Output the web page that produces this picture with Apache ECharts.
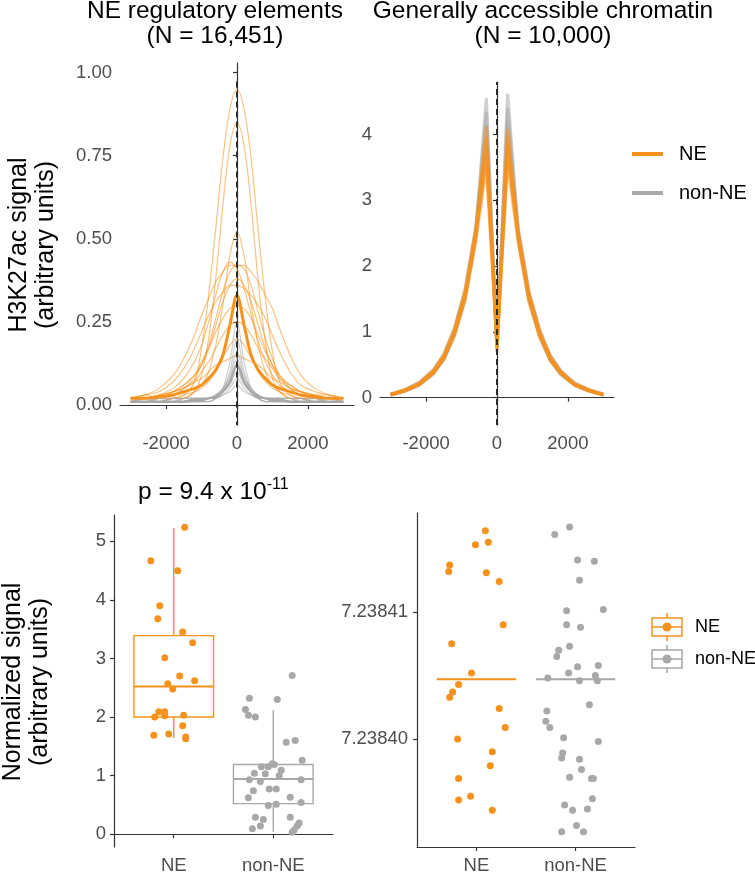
<!DOCTYPE html>
<html><head><meta charset="utf-8">
<script src="https://cdn.jsdelivr.net/npm/echarts@6/dist/echarts.min.js"></script>
<style>html,body{margin:0;padding:0;background:#fff}#c{width:755px;height:875px}</style>
</head><body><div id="c"></div>
<script>
const ORANGE = '#F5921E';
const GRAY = '#A8A8A8';
const FONT = '"Liberation Sans", Arial, Helvetica, sans-serif';

// ---------- Top-left: NE regulatory elements profiles ----------
const posLeft = [-3000,-2600,-2200,-1800,-1500,-1200,-1000,-800,-600,-400,-200,0,200,400,600,800,1000,1200,1500,1800,2200,2600,3000];
const leftNE = [
  [0.01,0.01,0.01,0.02,0.03,0.07,0.17,0.33,0.53,0.74,0.89,0.95,0.89,0.74,0.52,0.32,0.16,0.07,0.03,0.02,0.01,0.01,0.01],
  [0.01,0.01,0.01,0.01,0.02,0.04,0.09,0.20,0.38,0.60,0.78,0.85,0.78,0.60,0.37,0.19,0.08,0.04,0.02,0.01,0.01,0.01,0.01],
  [0.01,0.01,0.01,0.02,0.02,0.04,0.06,0.10,0.18,0.30,0.45,0.52,0.45,0.30,0.18,0.10,0.06,0.04,0.02,0.02,0.01,0.01,0.01],
  [0.01,0.02,0.03,0.05,0.08,0.13,0.18,0.25,0.33,0.40,0.43,0.41,0.35,0.27,0.19,0.13,0.09,0.06,0.04,0.03,0.02,0.01,0.01],
  [0.01,0.01,0.02,0.03,0.05,0.08,0.12,0.18,0.26,0.34,0.40,0.42,0.41,0.36,0.28,0.20,0.14,0.09,0.05,0.03,0.02,0.02,0.01],
  [0.02,0.03,0.05,0.09,0.14,0.21,0.27,0.32,0.37,0.40,0.42,0.42,0.42,0.40,0.37,0.33,0.29,0.23,0.15,0.09,0.05,0.03,0.02],
  [0.02,0.03,0.04,0.07,0.11,0.17,0.22,0.27,0.31,0.34,0.36,0.36,0.35,0.33,0.30,0.26,0.21,0.16,0.10,0.06,0.04,0.03,0.02],
  [0.01,0.02,0.03,0.04,0.06,0.09,0.13,0.17,0.22,0.26,0.29,0.30,0.29,0.26,0.21,0.16,0.12,0.08,0.05,0.04,0.03,0.02,0.01],
  [0.02,0.03,0.02,0.04,0.05,0.07,0.10,0.13,0.17,0.21,0.24,0.25,0.24,0.21,0.17,0.14,0.11,0.08,0.06,0.04,0.03,0.03,0.02],
  [0.01,0.01,0.02,0.02,0.03,0.04,0.05,0.07,0.10,0.14,0.18,0.20,0.18,0.14,0.10,0.07,0.05,0.04,0.03,0.02,0.02,0.01,0.01],
  [0.01,0.02,0.02,0.04,0.06,0.09,0.12,0.17,0.24,0.31,0.36,0.38,0.36,0.31,0.24,0.17,0.12,0.09,0.06,0.04,0.02,0.02,0.01],
  [0.02,0.02,0.03,0.04,0.05,0.07,0.08,0.10,0.12,0.13,0.14,0.15,0.14,0.13,0.12,0.10,0.08,0.07,0.05,0.04,0.03,0.02,0.02]
];
const leftNonNE = [
  [0.01,0.01,0.01,0.01,0.01,0.01,0.01,0.01,0.02,0.05,0.13,0.25,0.13,0.05,0.02,0.01,0.01,0.01,0.01,0.01,0.01,0.01,0.01],
  [0.01,0.01,0.01,0.01,0.01,0.01,0.01,0.01,0.02,0.04,0.10,0.20,0.10,0.04,0.02,0.01,0.01,0.01,0.01,0.01,0.01,0.01,0.01],
  [0.02,0.01,0.02,0.01,0.02,0.02,0.02,0.02,0.03,0.05,0.09,0.16,0.09,0.05,0.03,0.02,0.02,0.02,0.02,0.01,0.02,0.01,0.02],
  [0.01,0.02,0.01,0.02,0.01,0.02,0.02,0.02,0.03,0.05,0.08,0.14,0.08,0.05,0.03,0.02,0.02,0.02,0.01,0.02,0.01,0.02,0.01],
  [0.01,0.01,0.01,0.01,0.01,0.01,0.01,0.02,0.02,0.04,0.07,0.12,0.07,0.04,0.02,0.02,0.01,0.01,0.01,0.01,0.01,0.01,0.01],
  [0.02,0.02,0.02,0.02,0.02,0.02,0.02,0.02,0.03,0.04,0.06,0.10,0.06,0.04,0.03,0.02,0.02,0.02,0.02,0.02,0.02,0.02,0.02],
  [0.01,0.01,0.01,0.01,0.01,0.01,0.01,0.01,0.02,0.03,0.05,0.08,0.05,0.03,0.02,0.01,0.01,0.01,0.01,0.01,0.01,0.01,0.01],
  [0.02,0.02,0.01,0.02,0.02,0.02,0.02,0.02,0.02,0.03,0.04,0.06,0.04,0.03,0.02,0.02,0.02,0.02,0.02,0.02,0.01,0.02,0.02]
];
const leftMeanNE = [0.02,0.02,0.025,0.03,0.04,0.05,0.06,0.08,0.105,0.15,0.24,0.33,0.24,0.15,0.105,0.08,0.06,0.05,0.04,0.03,0.025,0.02,0.02];
const leftMeanNonNE = [0.01,0.01,0.01,0.01,0.01,0.015,0.015,0.02,0.025,0.04,0.07,0.12,0.07,0.04,0.025,0.02,0.015,0.015,0.01,0.01,0.01,0.01,0.01];

// ---------- Top-right: generally accessible chromatin profiles ----------
const posRight = [-3000,-2600,-2200,-1800,-1500,-1200,-900,-600,-300,0,300,600,900,1200,1500,1800,2200,2600,3000];
const rightNonNE = [
  [0.04,0.10,0.20,0.38,0.60,0.98,1.55,2.50,4.55,0.80,4.62,2.50,1.52,0.96,0.58,0.36,0.19,0.10,0.04],
  [0.05,0.11,0.21,0.40,0.63,1.02,1.60,2.55,4.35,0.70,4.40,2.52,1.58,1.00,0.62,0.39,0.20,0.11,0.05],
  [0.04,0.10,0.19,0.36,0.58,0.95,1.50,2.42,4.15,0.90,4.20,2.40,1.48,0.93,0.57,0.35,0.19,0.10,0.04],
  [0.05,0.12,0.23,0.42,0.66,1.06,1.65,2.60,3.90,0.85,3.95,2.58,1.62,1.04,0.65,0.41,0.22,0.12,0.05],
  [0.04,0.10,0.20,0.37,0.59,0.96,1.52,2.45,3.70,1.00,3.75,2.44,1.50,0.95,0.58,0.36,0.20,0.10,0.04]
];
const rightNE = [
  [0.05,0.11,0.21,0.39,0.62,1.00,1.57,2.50,4.12,0.72,4.08,2.47,1.55,0.98,0.60,0.38,0.20,0.11,0.05],
  [0.05,0.12,0.22,0.41,0.65,1.04,1.62,2.55,3.95,0.75,3.98,2.52,1.60,1.02,0.63,0.40,0.21,0.12,0.05],
  [0.04,0.10,0.20,0.37,0.60,0.97,1.52,2.42,3.80,0.78,3.85,2.40,1.50,0.95,0.58,0.37,0.19,0.10,0.04],
  [0.05,0.11,0.21,0.40,0.63,1.01,1.58,2.48,3.65,0.80,3.70,2.46,1.56,0.99,0.61,0.39,0.20,0.11,0.05],
  [0.04,0.10,0.19,0.36,0.58,0.94,1.48,2.38,3.50,0.85,3.55,2.36,1.46,0.93,0.57,0.36,0.19,0.10,0.04]
];

const topXTicks = [-2000, 0, 2000];
const topLeftYTicks = [0, 0.25, 0.5, 0.75, 1];
const topRightYTicks = [0, 1, 2, 3, 4];

// ---------- Bottom-left: normalized signal ----------
const categories = ['NE', 'non-NE'];
const bottomLeftYTicks = [0, 1, 2, 3, 4, 5];
// [min whisker, Q1, median, Q3, max whisker]
const boxNE = [1.64, 2.00, 2.52, 3.39, 5.23];
const boxNonNE = [0.04, 0.52, 0.94, 1.19, 2.12];
const neValues = [5.24,4.67,4.50,3.90,3.68,3.45,3.27,3.01,2.70,2.62,2.57,2.48,2.09,2.09,2.00,2.02,2.03,1.85,1.69,1.71,1.66,1.63];
const neJitter = [0.11,-0.23,0.04,-0.14,-0.16,0.09,0.19,-0.09,0.06,0.21,-0.06,-0.01,-0.15,-0.09,-0.19,-0.09,0.10,0.09,-0.20,-0.05,0.12,0.12];
const nonNeValues = [2.71,2.32,2.30,2.13,2.03,2.00,1.60,1.57,1.26,1.20,1.19,1.15,1.15,1.09,1.04,1.03,1.00,0.93,0.90,0.93,0.77,0.77,0.74,0.62,0.63,0.49,0.51,0.54,0.29,0.29,0.25,0.19,0.14,0.14,0.09,0.07,0.03];
const nonNeJitter = [0.19,-0.24,0.04,-0.28,-0.25,-0.18,0.22,0.13,0.29,-0.01,0.01,-0.12,-0.05,0.08,-0.19,-0.08,0.06,-0.24,-0.13,0.28,-0.04,0.03,-0.20,-0.25,0.17,-0.05,0.03,0.28,-0.18,0.17,-0.10,0.26,0.24,-0.13,-0.21,0.21,0.19];

// ---------- Bottom-right ----------
const bottomRightYTicks = [7.2384, 7.23841];
const rightMedianNE = 7.2384047;
const rightMedianNonNE = 7.2384047;
const rNeValues = [7.2384164,7.2384153,7.2384155,7.2384137,7.2384132,7.2384131,7.2384124,7.2384090,7.2384075,7.2384052,7.2384043,7.2384037,7.2384033,7.2384024,7.2384009,7.2384000,7.2383990,7.2383979,7.2383969,7.2383955,7.2383952,7.2383944];
const rNeJitter = [0.09,-0.01,0.12,-0.27,-0.28,0.10,0.23,0.27,-0.25,-0.05,-0.18,-0.24,-0.27,0.23,0.29,-0.19,0.16,0.14,-0.18,-0.06,-0.18,0.16];
const rNonNeValues = [7.2384167,7.2384161,7.2384141,7.2384140,7.2384125,7.2384102,7.2384101,7.2384090,7.2384088,7.2384073,7.2384070,7.2384065,7.2384057,7.2384058,7.2384052,7.2384048,7.2384046,7.2384050,7.2384046,7.2384027,7.2384022,7.2384014,7.2384009,7.2384001,7.2383998,7.2383989,7.2383985,7.2383984,7.2383976,7.2383970,7.2383969,7.2383969,7.2383953,7.2383948,7.2383944,7.2383945,7.2383932,7.2383927,7.2383927];
const rNonNeJitter = [-0.06,-0.21,0.02,0.19,0.04,0.28,-0.09,-0.09,0.05,-0.06,-0.17,-0.19,0.02,0.23,-0.07,-0.28,0.04,0.20,0.22,0.14,-0.29,-0.30,-0.26,-0.12,0.23,-0.13,-0.14,0.04,0.06,-0.06,0.16,0.18,0.17,-0.11,-0.03,0.12,0.01,-0.14,0.08];

// ---------- build ----------
const chart = echarts.init(document.getElementById('c'), null, {renderer: 'canvas'});

const axisLine = {show: true, lineStyle: {color: '#333', width: 1.2}};
const axisTickBase = {show: true, length: 4, lineStyle: {color: '#333', width: 1.2}};
const labelBase = {color: '#4D4D4D', fontSize: 18.5, fontFamily: FONT};

function valueAxis(gridIndex, min, max, ticks, fmt, margin) {
  return {
    type: 'value', gridIndex, min, max,
    axisLine, splitLine: {show: false},
    axisTick: Object.assign({}, axisTickBase, {customValues: ticks}),
    axisLabel: Object.assign({}, labelBase, {customValues: ticks, formatter: fmt, margin: margin || 8})
  };
}

const xAxes = [
  valueAxis(0, -3300, 3300, topXTicks, v => String(v), 9),
  valueAxis(1, -3300, 3300, topXTicks, v => String(v), 9),
  valueAxis(2, 0.4, 2.6, [1, 2], v => categories[Math.round(v) - 1], 9),
  valueAxis(3, 0.4, 2.6, [1, 2], v => categories[Math.round(v) - 1], 9)
];
const yAxes = [
  valueAxis(0, -0.0602, 1.029, topLeftYTicks, v => v.toFixed(2), 8),
  valueAxis(1, -0.416, 4.80, topRightYTicks, v => String(v), 8),
  valueAxis(2, -0.22, 5.45, bottomLeftYTicks, v => String(v), 8),
  valueAxis(3, 7.2383915, 7.2384178, bottomRightYTicks, v => v.toFixed(5), 9)
];

const series = [];
function lineSeries(idx, pos, vals, color, width, opacity, smooth, name) {
  return {
    type: 'line', name: name || '', xAxisIndex: idx, yAxisIndex: idx,
    data: pos.map((p, i) => [p, vals[i]]),
    showSymbol: false, symbol: 'none', smooth: smooth, silent: true,
    lineStyle: {color, width, opacity}
  };
}
const dashStyle = {color: '#2b2b2b', width: 2, type: [6, 4], opacity: 1};

leftNE.forEach(v => series.push(lineSeries(0, posLeft, v, ORANGE, 1.2, 0.55, 0.35)));
leftNonNE.forEach(v => series.push(lineSeries(0, posLeft, v, GRAY, 1.2, 0.55, 0.35)));
series.push(lineSeries(0, posLeft, leftMeanNonNE, GRAY, 2.5, 1, 0.35, 'non-NE'));
const meanNE = lineSeries(0, posLeft, leftMeanNE, ORANGE, 3, 1, 0.35, 'NE');
meanNE.markLine = {symbol: 'none', silent: true, label: {show: false}, lineStyle: dashStyle,
  data: [[{coord: [0, 0.973]}, {coord: [0, -0.0602]}]]};
series.push(meanNE);

rightNonNE.forEach(v => series.push(lineSeries(1, posRight, v, GRAY, 3.2, 0.55, false)));
rightNE.forEach((v, k) => {
  const s = lineSeries(1, posRight, v, ORANGE, 3.2, 0.55, false);
  if (k === rightNE.length - 1) {
    s.markLine = {symbol: 'none', silent: true, label: {show: false}, lineStyle: dashStyle, data: [{xAxis: 0}]};
  }
  series.push(s);
});

// ggplot-style box (no whisker caps) drawn through the axis scales
function boxRender(colors, lw) {
  return function (params, api) {
    const x = api.value(0);
    const color = colors[params.dataIndex];
    const half = api.size([0.8, 0])[0] / 2;
    const pMin = api.coord([x, api.value(1)]);
    const pQ1 = api.coord([x, api.value(2)]);
    const pMed = api.coord([x, api.value(3)]);
    const pQ3 = api.coord([x, api.value(4)]);
    const pMax = api.coord([x, api.value(5)]);
    const st = {stroke: color, lineWidth: lw, fill: null};
    return {type: 'group', children: [
      {type: 'line', shape: {x1: pMax[0], y1: pMax[1], x2: pQ3[0], y2: pQ3[1]}, style: st},
      {type: 'line', shape: {x1: pQ1[0], y1: pQ1[1], x2: pMin[0], y2: pMin[1]}, style: st},
      {type: 'rect', shape: {x: pQ3[0] - half, y: pQ3[1], width: 2 * half, height: pQ1[1] - pQ3[1]},
        style: {stroke: color, lineWidth: lw, fill: '#fff'}},
      {type: 'line', shape: {x1: pMed[0] - half, y1: pMed[1], x2: pMed[0] + half, y2: pMed[1]},
        style: {stroke: color, lineWidth: lw + 0.6}}
    ]};
  };
}

series.push({
  type: 'custom', xAxisIndex: 2, yAxisIndex: 2, silent: true, z: 3,
  renderItem: boxRender([ORANGE, GRAY], 1.4),
  encode: {x: 0, y: [1, 2, 3, 4, 5]},
  data: [[1].concat(boxNE), [2].concat(boxNonNE)]
});
series.push({type: 'scatter', xAxisIndex: 2, yAxisIndex: 2, symbolSize: 7, silent: true, z: 5,
  itemStyle: {color: ORANGE, opacity: 1}, data: neValues.map((v, i) => [1 + neJitter[i], v])});
series.push({type: 'scatter', xAxisIndex: 2, yAxisIndex: 2, symbolSize: 7, silent: true, z: 5,
  itemStyle: {color: GRAY, opacity: 1}, data: nonNeValues.map((v, i) => [2 + nonNeJitter[i], v])});

series.push({
  type: 'custom', xAxisIndex: 3, yAxisIndex: 3, silent: true, z: 3,
  renderItem: boxRender([ORANGE, GRAY], 1.4),
  encode: {x: 0, y: [1, 2, 3, 4, 5]},
  data: [[1, rightMedianNE, rightMedianNE, rightMedianNE, rightMedianNE, rightMedianNE],
         [2, rightMedianNonNE, rightMedianNonNE, rightMedianNonNE, rightMedianNonNE, rightMedianNonNE]]
});
series.push({type: 'scatter', xAxisIndex: 3, yAxisIndex: 3, symbolSize: 7, silent: true, z: 5,
  itemStyle: {color: ORANGE, opacity: 1}, data: rNeValues.map((v, i) => [1 + rNeJitter[i], v])});
series.push({type: 'scatter', xAxisIndex: 3, yAxisIndex: 3, symbolSize: 7, silent: true, z: 5,
  itemStyle: {color: GRAY, opacity: 1}, data: rNonNeValues.map((v, i) => [2 + rNonNeJitter[i], v])});

function txt(x, y, text, size, opts) {
  return Object.assign({type: 'text', x, y, silent: true,
    style: {text, fontSize: size, fontFamily: FONT, fill: '#000', align: 'center', verticalAlign: 'middle'}}, opts || {});
}
function legendBox(cx, cy, color) {
  return {type: 'group', silent: true, children: [
    {type: 'line', shape: {x1: cx, y1: cy - 14, x2: cx, y2: cy + 14}, style: {stroke: color, lineWidth: 1.5}},
    {type: 'rect', shape: {x: cx - 15, y: cy - 9, width: 30, height: 18}, style: {fill: '#fff', stroke: color, lineWidth: 1.5}},
    {type: 'line', shape: {x1: cx - 15, y1: cy, x2: cx + 15, y2: cy}, style: {stroke: color, lineWidth: 1.5}},
    {type: 'circle', shape: {cx, cy, r: 4.5}, style: {fill: color}}
  ]};
}

const graphic = [
  txt(215, 11, 'NE regulatory elements', 24.5),
  txt(215, 36, '(N = 16,451)', 24.5),
  txt(543, 11, 'Generally accessible chromatin', 24.5),
  txt(543, 36, '(N = 10,000)', 24.5),
  txt(19, 245, 'H3K27ac signal', 25, {rotation: Math.PI / 2}),
  txt(46, 245, '(arbitrary units)', 25, {rotation: Math.PI / 2}),
  txt(13, 682, 'Normalized signal', 25, {rotation: Math.PI / 2}),
  txt(40, 682, '(arbitrary units)', 25, {rotation: Math.PI / 2}),
  {type: 'text', x: 138, y: 491, silent: true, style: {
    text: '{a|p = 9.4 x 10}{b|-11}', fontFamily: FONT, align: 'left', verticalAlign: 'middle',
    rich: {a: {fontSize: 24.5, fontFamily: FONT, fill: '#000', lineHeight: 28, verticalAlign: 'bottom'},
           b: {fontSize: 16, fontFamily: FONT, fill: '#000', lineHeight: 28, verticalAlign: 'top'}}}},
  // top legend
  {type: 'line', silent: true, shape: {x1: 632, y1: 154, x2: 663, y2: 154}, style: {stroke: ORANGE, lineWidth: 4}},
  {type: 'line', silent: true, shape: {x1: 632, y1: 193, x2: 663, y2: 193}, style: {stroke: GRAY, lineWidth: 4}},
  {type: 'text', x: 679, y: 154, silent: true, style: {text: 'NE', fontSize: 20, fontFamily: FONT, fill: '#000', align: 'left', verticalAlign: 'middle'}},
  {type: 'text', x: 679, y: 193, silent: true, style: {text: 'non-NE', fontSize: 20, fontFamily: FONT, fill: '#000', align: 'left', verticalAlign: 'middle'}},
  // bottom legend
  legendBox(667, 627, ORANGE),
  legendBox(667, 659, GRAY),
  {type: 'text', x: 695, y: 627, silent: true, style: {text: 'NE', fontSize: 18, fontFamily: FONT, fill: '#000', align: 'left', verticalAlign: 'middle'}},
  {type: 'text', x: 695, y: 659, silent: true, style: {text: 'non-NE', fontSize: 18, fontFamily: FONT, fill: '#000', align: 'left', verticalAlign: 'middle'}}
];

chart.setOption({
  animation: false,
  backgroundColor: '#fff',
  grid: [
    {left: 120, top: 63, width: 234, height: 362},
    {left: 380, top: 82, width: 234, height: 343},
    {left: 114, top: 515, width: 219, height: 337},
    {left: 417, top: 513, width: 218, height: 340}
  ],
  xAxis: xAxes,
  yAxis: yAxes,
  series,
  graphic
});
</script></body></html>
